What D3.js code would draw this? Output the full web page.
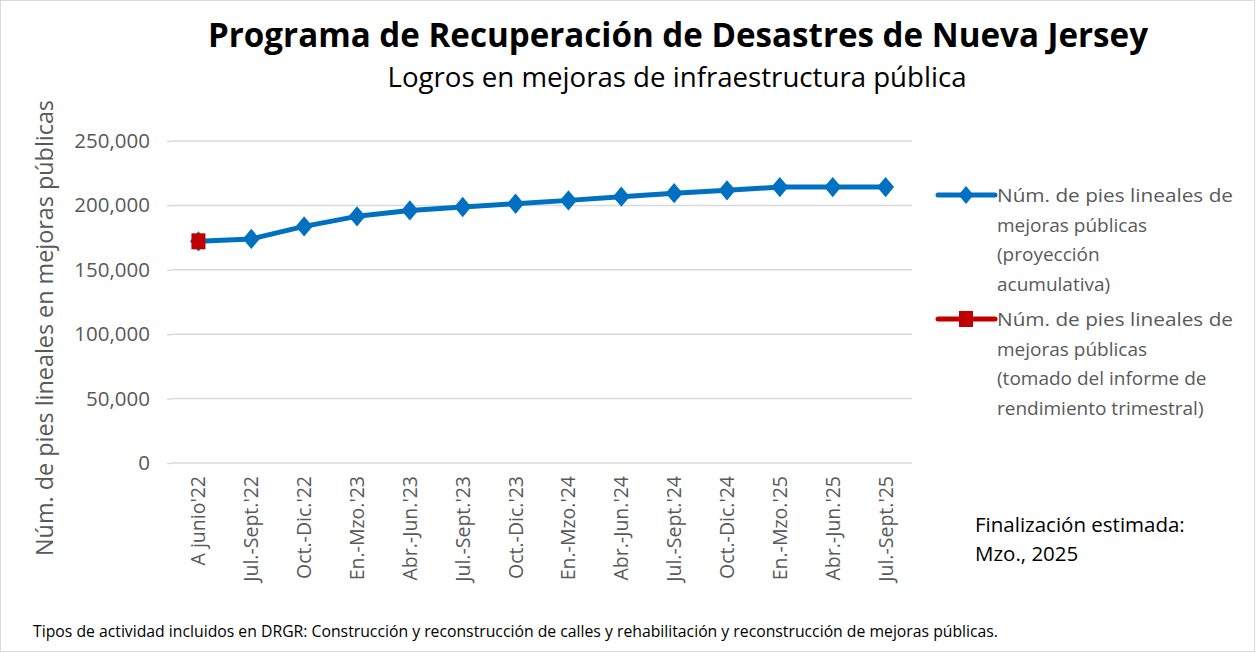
<!DOCTYPE html>
<html><head><meta charset="utf-8">
<script src="https://cdn.jsdelivr.net/npm/d3@7"></script>
<style>body{margin:0;background:#fff}svg{display:block}</style>
</head><body>
<svg id="c" width="1256" height="653"></svg>
<script>
const categories = ["A junio'22","Jul.-Sept.'22","Oct.-Dic.'22","En.-Mzo.'23","Abr.-Jun.'23","Jul.-Sept.'23","Oct.-Dic.'23","En.-Mzo.'24","Abr.-Jun.'24","Jul.-Sept.'24","Oct.-Dic.'24","En.-Mzo.'25","Abr.-Jun.'25","Jul.-Sept.'25"];
const projection = [172100,174000,183700,191500,196100,198700,201300,203900,206800,209500,211700,214200,214200,214200];
const reported = [172100];
const yTicks = [0,50000,100000,150000,200000,250000];
const seriesNames = [
  ["Núm. de pies lineales de","mejoras públicas","(proyección","acumulativa)"],
  ["Núm. de pies lineales de","mejoras públicas","(tomado del informe de","rendimiento trimestral)"]
];
const titleText = "Programa de Recuperación de Desastres de Nueva Jersey";
const subtitleText = "Logros en mejoras de infraestructura pública";
const yTitle = "Núm. de pies lineales en mejoras públicas";
const noteLines = ["Finalización estimada:","Mzo., 2025"];
const footnote = "Tipos de actividad incluidos en DRGR: Construcción y reconstrucción de calles y rehabilitación y reconstrucción de mejoras públicas.";

const svg = d3.select("#c");
const F = "'Open Sans', 'Noto Sans', sans-serif";
const blue = "#0070C0", red = "#C00000", gray = "#595959";

svg.append("rect").attr("x",0.5).attr("y",0.5).attr("width",1254).attr("height",651)
  .attr("fill","#fff").attr("stroke","#d9d9d9");

const x = d3.scaleBand().domain(categories).range([172,912]);
const y = d3.scaleLinear().domain([0,250000]).range([463,141]);

// grid
svg.append("g").selectAll("line").data(yTicks).join("line")
  .attr("x1",172).attr("x2",912).attr("y1",d=>y(d)).attr("y2",d=>y(d))
  .attr("stroke","#d9d9d9").attr("stroke-width",1.5);

// y axis
const ya = svg.append("g").attr("transform","translate(172,0)")
  .call(d3.axisLeft(y).tickValues(yTicks).tickFormat(d3.format(",")).tickSize(5).tickPadding(17));
ya.select(".domain").remove();
ya.selectAll("line").attr("stroke","#d9d9d9").attr("stroke-width",1.5);
ya.selectAll("text").attr("font-family",F).attr("font-size",20.5).attr("fill",gray);

// x axis
const xa = svg.append("g").attr("transform","translate(0,463)")
  .call(d3.axisBottom(x).tickSize(0).tickPadding(0));
xa.select(".domain").remove();
xa.selectAll("text").attr("font-family",F).attr("font-size",19.5).attr("fill",gray)
  .attr("text-anchor","end").attr("transform","rotate(-90)").attr("x",-13).attr("y",0).attr("dy","0.36em");

const cx = d => x(d) + x.bandwidth()/2;
const diamond = (s) => `M0,${-s*1.2}L${s},0L0,${s*1.2}L${-s},0Z`;

// projection line
svg.append("path").datum(projection)
  .attr("d", d3.line().x((d,i)=>cx(categories[i])).y(d=>y(d)))
  .attr("fill","none").attr("stroke",blue).attr("stroke-width",5).attr("stroke-linejoin","round");
svg.append("g").selectAll("path").data(projection).join("path")
  .attr("transform",(d,i)=>`translate(${cx(categories[i])},${y(d)})`)
  .attr("d",diamond(8.5)).attr("fill",blue);

// reported
svg.append("g").selectAll("rect").data(reported).join("rect")
  .attr("x",(d,i)=>cx(categories[i])-7).attr("y",d=>y(d)-8).attr("width",14).attr("height",16).attr("fill",red);

// legend
const lg = svg.append("g");
const legY = [195, 319];
[blue, red].forEach((c,k)=>{
  lg.append("line").attr("x1",938).attr("x2",995).attr("y1",legY[k]).attr("y2",legY[k])
    .attr("stroke",c).attr("stroke-width",5).attr("stroke-linecap","round");
  if(k===0) lg.append("path").attr("transform",`translate(966,${legY[k]})`).attr("d",diamond(7.5)).attr("fill",c);
  else lg.append("rect").attr("x",959).attr("y",legY[k]-8).attr("width",14).attr("height",16).attr("fill",c);
  seriesNames[k].forEach((t,j)=>{
    lg.append("text").attr("x",997).attr("y",legY[k]+7+j*29.5).text(t)
      .attr("font-family",F).attr("font-size",19).attr("fill",gray)
      .attr("textLength", j===0 ? 236 : null).attr("lengthAdjust","spacingAndGlyphs");
  });
});

// titles
svg.append("text").attr("x",678).attr("y",47).attr("text-anchor","middle").text(titleText)
  .attr("font-family",F).attr("font-weight","bold").attr("font-size",34).attr("fill","#000")
  .attr("textLength",940).attr("lengthAdjust","spacingAndGlyphs");
svg.append("text").attr("x",677).attr("y",87).attr("text-anchor","middle").text(subtitleText)
  .attr("font-family",F).attr("font-size",27).attr("fill","#000")
  .attr("textLength",579).attr("lengthAdjust","spacingAndGlyphs");

// y title
svg.append("text").attr("transform","translate(53,328) rotate(-90)").attr("text-anchor","middle")
  .text(yTitle).attr("font-family",F).attr("font-size",23).attr("fill",gray)
  .attr("textLength",456).attr("lengthAdjust","spacingAndGlyphs");

// note
noteLines.forEach((t,j)=>{
  svg.append("text").attr("x",975).attr("y",532+j*29).text(t)
    .attr("font-family",F).attr("font-size",20.5).attr("fill","#000");
});

// footnote
svg.append("text").attr("x",33).attr("y",637).text(footnote)
  .attr("font-family",F).attr("font-size",16.5).attr("fill","#000")
  .attr("textLength",965).attr("lengthAdjust","spacingAndGlyphs");
</script>
</body></html>
